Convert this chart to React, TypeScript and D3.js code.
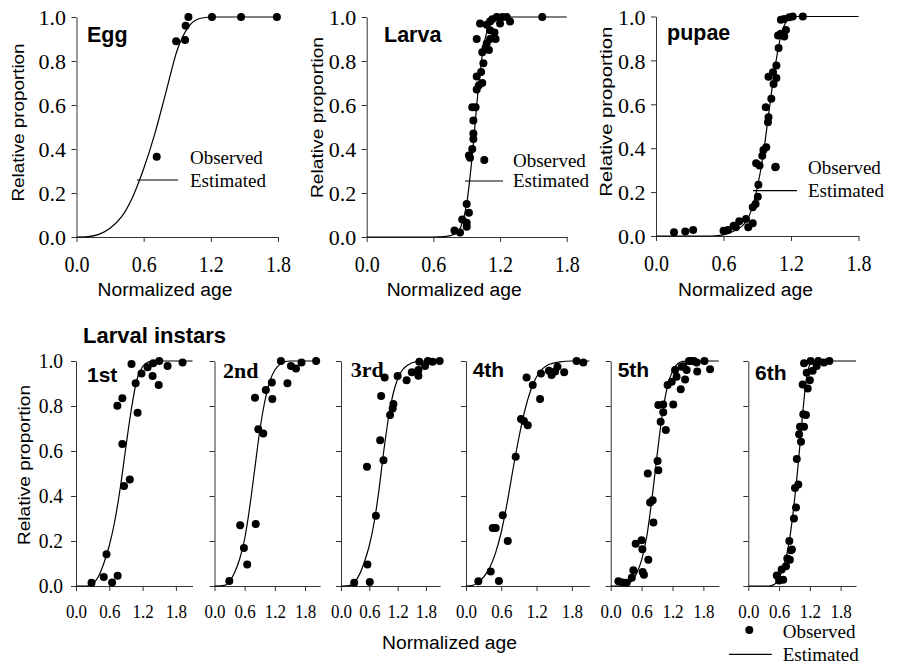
import React, { useEffect, useRef } from "react";
import * as d3 from "d3";

type Pt = [number, number];

// ── tick values ──────────────────────────────────────────────
const yTicks = [0, 0.2, 0.4, 0.6, 0.8, 1.0];
const xTicks = [0, 0.6, 1.2, 1.8];

// ── observed / estimated, [normalized age, relative proportion] ──
const eggObserved: Pt[] = [
  [0.89, 0.89], [0.97, 0.895], [0.975, 0.96], [1.0, 1.0], [1.21, 1.0], [1.47, 1.0], [1.79, 1.0],
];
const eggEstimated: Pt[] = [
  [0, 0], [0.1, 0.002], [0.2, 0.012], [0.3, 0.04], [0.4, 0.09], [0.5, 0.18], [0.6, 0.31],
  [0.7, 0.47], [0.8, 0.66], [0.9, 0.85], [1.0, 0.955], [1.1, 0.993], [1.2, 1], [1.8, 1],
];

const larvaObserved: Pt[] = [
  [0.79, 0.03], [0.84, 0.02], [0.86, 0.08], [0.9, 0.15], [0.9, 0.065], [0.92, 0.11], [0.9, 0.047],
  [0.92, 0.37], [0.93, 0.36], [0.95, 0.4], [0.96, 0.445], [0.96, 0.47], [0.95, 0.59], [0.98, 0.59],
  [0.96, 0.53], [0.99, 0.67], [1.01, 0.69], [0.99, 0.73], [1.03, 0.75], [1.05, 0.79], [1.04, 0.84],
  [1.07, 0.86], [1.08, 0.88], [1.1, 0.85], [0.99, 0.9], [1.11, 0.9], [1.11, 0.94], [1.15, 0.93],
  [1.02, 0.97], [1.08, 0.965], [1.13, 0.99], [1.17, 1], [1.22, 1], [1.26, 1], [1.2, 0.97],
  [1.29, 0.98], [1.11, 0.98], [1.58, 1], [1.16, 0.9], [1.04, 0.7],
];
const larvaEstimated: Pt[] = [
  [0, 0], [0.6, 0], [0.7, 0.002], [0.8, 0.015], [0.85, 0.05], [0.9, 0.15], [0.95, 0.37],
  [1.0, 0.65], [1.05, 0.86], [1.1, 0.96], [1.15, 0.993], [1.2, 1], [1.8, 1],
];

const pupaeObserved: Pt[] = [
  [0.16, 0.017], [0.26, 0.021], [0.33, 0.027], [0.6, 0.024], [0.64, 0.027], [0.69, 0.047],
  [0.71, 0.04], [0.74, 0.067], [0.8, 0.078], [0.82, 0.04], [0.86, 0.058], [0.86, 0.131],
  [0.885, 0.146], [0.905, 0.179], [0.91, 0.234], [0.89, 0.331], [0.92, 0.321], [0.945, 0.366],
  [0.955, 0.392], [0.98, 0.404], [1.06, 0.313], [0.975, 0.587], [1.0, 0.541], [0.995, 0.518],
  [1.025, 0.625], [1.0, 0.726], [1.04, 0.746], [1.07, 0.72], [1.045, 0.693], [1.07, 0.777],
  [1.09, 0.857], [1.085, 0.913], [1.11, 0.921], [1.14, 0.909], [1.155, 0.939], [1.11, 0.985],
  [1.14, 0.989], [1.185, 0.997], [1.215, 1], [1.305, 1],
];
const pupaeEstimated: Pt[] = [
  [0, 0], [0.5, 0], [0.6, 0.005], [0.7, 0.025], [0.8, 0.065], [0.85, 0.12], [0.9, 0.22],
  [0.95, 0.36], [1.0, 0.55], [1.05, 0.74], [1.1, 0.89], [1.15, 0.97], [1.2, 0.997], [1.25, 1], [1.8, 1],
];

const instar1Observed: Pt[] = [
  [0.28, 0.015], [0.5, 0.04], [0.55, 0.141], [0.65, 0.016], [0.75, 0.046], [0.745, 0.801],
  [0.835, 0.834], [0.835, 0.631], [0.865, 0.444], [0.97, 0.473], [1.0, 0.987], [1.075, 0.901],
  [1.11, 0.77], [1.18, 0.945], [1.29, 0.972], [1.38, 0.933], [1.39, 0.99], [1.5, 1.0],
  [1.49, 0.893], [1.65, 0.978], [1.92, 0.993],
];
const instar1Estimated: Pt[] = [
  [0, 0], [0.2, 0], [0.3, 0.01], [0.4, 0.04], [0.5, 0.1], [0.6, 0.18], [0.7, 0.29], [0.8, 0.44],
  [0.9, 0.62], [1.0, 0.79], [1.1, 0.92], [1.2, 0.975], [1.3, 0.995], [1.4, 1], [2.1, 1],
];

const instar2Observed: Pt[] = [
  [0.295, 0.022], [0.51, 0.27], [0.585, 0.169], [0.65, 0.096], [0.82, 0.276], [0.805, 0.837],
  [0.87, 0.697], [0.97, 0.678], [1.02, 0.871], [1.14, 0.904], [1.15, 0.831], [1.32, 1.0],
  [1.45, 0.901], [1.52, 0.978], [1.62, 0.967], [1.73, 0.993], [2.02, 1.0],
];
const instar2Estimated: Pt[] = [
  [0, 0], [0.2, 0.003], [0.3, 0.02], [0.4, 0.06], [0.5, 0.12], [0.6, 0.21], [0.7, 0.35], [0.8, 0.52],
  [0.9, 0.69], [1.0, 0.82], [1.1, 0.91], [1.2, 0.96], [1.3, 0.985], [1.4, 0.997], [1.5, 1], [2.1, 1],
];

const instar3Observed: Pt[] = [
  [0.28, 0.015], [0.56, 0.096], [0.61, 0.018], [0.55, 0.53], [0.74, 0.312], [0.83, 0.648],
  [0.9, 0.559], [0.85, 0.844], [0.925, 0.927], [1.04, 0.76], [1.095, 0.789], [1.11, 0.809],
  [1.2, 0.933], [1.39, 0.915], [1.5, 0.95], [1.64, 0.935], [1.64, 0.96], [1.66, 0.997],
  [1.78, 0.978], [1.84, 1.0], [1.94, 0.997], [2.09, 1.0],
];
const instar3Estimated: Pt[] = [
  [0, 0], [0.2, 0.003], [0.3, 0.02], [0.4, 0.055], [0.5, 0.11], [0.6, 0.18], [0.7, 0.28],
  [0.8, 0.42], [0.9, 0.59], [1.0, 0.74], [1.1, 0.85], [1.2, 0.92], [1.3, 0.96], [1.4, 0.98],
  [1.6, 0.997], [1.8, 1], [2.1, 1],
];

const instar4Observed: Pt[] = [
  [0.21, 0.021], [0.42, 0.065], [0.56, 0.022], [0.455, 0.258], [0.505, 0.258], [0.625, 0.315],
  [0.71, 0.2], [0.845, 0.574], [0.935, 0.742], [0.985, 0.733], [1.05, 0.715], [1.03, 0.927],
  [1.135, 0.893], [1.26, 0.831], [1.275, 0.945], [1.41, 0.957], [1.455, 0.938], [1.515, 0.953],
  [1.555, 0.975], [1.67, 0.95], [1.88, 1.0], [1.995, 0.993],
];
const instar4Estimated: Pt[] = [
  [0, 0], [0.1, 0.002], [0.2, 0.015], [0.3, 0.04], [0.4, 0.08], [0.5, 0.145], [0.6, 0.24],
  [0.7, 0.37], [0.8, 0.52], [0.9, 0.66], [1.0, 0.78], [1.1, 0.87], [1.2, 0.93], [1.3, 0.965],
  [1.4, 0.983], [1.6, 0.996], [1.8, 1], [2.1, 1],
];

const instar5Observed: Pt[] = [
  [0.15, 0.021], [0.235, 0.016], [0.31, 0.015], [0.41, 0.037], [0.44, 0.07], [0.485, 0.188],
  [0.6, 0.203], [0.615, 0.163], [0.62, 0.062], [0.645, 0.05], [0.73, 0.117], [0.72, 0.5],
  [0.765, 0.371], [0.815, 0.381], [0.83, 0.282], [0.91, 0.556], [0.925, 0.515], [0.925, 0.804],
  [1.02, 0.807], [0.97, 0.73], [1.02, 0.772], [1.07, 0.693], [1.105, 0.893], [1.215, 0.807],
  [1.185, 0.908], [1.25, 0.96], [1.28, 0.93], [1.36, 0.875], [1.38, 0.975], [1.445, 0.918],
  [1.475, 0.96], [1.52, 1.0], [1.41, 0.977], [1.575, 1.0], [1.615, 1.0], [1.67, 0.993],
  [1.68, 0.953], [1.82, 1.0], [1.93, 0.963],
];
const instar5Estimated: Pt[] = [
  [0, 0], [0.2, 0.001], [0.3, 0.006], [0.4, 0.02], [0.5, 0.055], [0.6, 0.115], [0.7, 0.22],
  [0.8, 0.385], [0.9, 0.58], [1.0, 0.76], [1.1, 0.885], [1.2, 0.955], [1.3, 0.988], [1.4, 0.998],
  [1.5, 1], [2.1, 1],
];

const instar6Observed: Pt[] = [
  [0.555, 0.047], [0.6, 0.025], [0.68, 0.028], [0.65, 0.073], [0.735, 0.088], [0.76, 0.122],
  [0.81, 0.117], [0.83, 0.159], [0.8, 0.2], [0.85, 0.162], [0.89, 0.3], [0.93, 0.349],
  [0.91, 0.436], [0.975, 0.451], [0.945, 0.564], [1.027, 0.641], [0.99, 0.674], [1.008, 0.708],
  [1.086, 0.708], [1.072, 0.763], [1.124, 0.76], [1.06, 0.896], [1.158, 0.878], [1.2, 0.915],
  [1.138, 0.948], [1.255, 0.957], [1.086, 0.99], [1.216, 1.0], [1.333, 0.978], [1.365, 1.0],
  [1.476, 0.993], [1.58, 1.0],
];
const instar6Estimated: Pt[] = [
  [0, 0], [0.4, 0], [0.5, 0.006], [0.6, 0.035], [0.7, 0.095], [0.8, 0.2], [0.9, 0.38], [1.0, 0.61],
  [1.05, 0.74], [1.1, 0.86], [1.15, 0.945], [1.2, 0.985], [1.25, 0.998], [1.3, 1], [2.1, 1],
];

const topTitles = ["Egg", "Larva", "pupae"];
const instarTitles = ["1st", "2nd", "3rd", "4th", "5th", "6th"];

// ── layout (pixels) ──────────────────────────────────────────
const SERIF = "'Liberation Serif', 'Times New Roman', serif";
const SANS = "'Liberation Sans', Arial, sans-serif";
const AXIS = "#333";

const topLayout = [
  { left: 76.5, right: 278, top: 17, bottom: 237, xMax: 1.8, title: [87, 42], ylab: [24, 122.5, 158], xlab: [97.5, 296, 135], legend: { dot: [156.7, 156.7], line: [137, 178, 180], text: [190, 164, 187] } },
  { left: 366.7, right: 566.7, top: 17, bottom: 237, xMax: 1.8, title: [384, 42], ylab: [322.6, 117.5, 161], xlab: [386.7, 296, 135], legend: { dot: [484.3, 160], line: [465, 503, 181], text: [513, 166.5, 187.3] } },
  { left: 656, right: 858.5, top: 16.5, bottom: 236, xMax: 1.8, title: [667, 40], ylab: [611.6, 111.7, 170], xlab: [678, 296, 135], legend: { dot: [775.7, 166.7], line: [753, 797, 190.7], text: [808, 174, 197.3] } },
];

const bottomLayout = [
  { left: 76, unit: 55.5, serifTitle: false, title: [87, 382] },
  { left: 214.5, unit: 50.3, serifTitle: true, title: [223, 378] },
  { left: 341, unit: 47.2, serifTitle: true, title: [350.7, 377] },
  { left: 466, unit: 58.8, serifTitle: false, title: [472.7, 377] },
  { left: 610.7, unit: 51.5, serifTitle: false, title: [617.7, 377] },
  { left: 748.3, unit: 51.3, serifTitle: false, title: [755, 380] },
];

// taller-than-wide Times digits in the source figure
function stretchY(sel: any, k: number) {
  sel
    .style("transform-box", "fill-box")
    .style("transform-origin", "center")
    .style("transform", `scaleY(${k})`);
}

export default function App() {
  const svgRef = useRef<SVGSVGElement>(null);

  useEffect(() => {
    const svg = d3.select(svgRef.current);
    svg.selectAll("*").remove();

    const topData = [
      [eggObserved, eggEstimated],
      [larvaObserved, larvaEstimated],
      [pupaeObserved, pupaeEstimated],
    ];
    const bottomData = [
      [instar1Observed, instar1Estimated],
      [instar2Observed, instar2Estimated],
      [instar3Observed, instar3Estimated],
      [instar4Observed, instar4Estimated],
      [instar5Observed, instar5Estimated],
      [instar6Observed, instar6Estimated],
    ];

    function drawPanel(obs: Pt[], est: Pt[], x: d3.ScaleLinear<number, number>, y: d3.ScaleLinear<number, number>, o: any) {
      const g = svg.append("g");

      // y axis
      const ya = g.append("g")
        .attr("transform", `translate(${x.range()[0]},0)`)
        .call(d3.axisLeft(y).tickValues(yTicks).tickSize(5).tickSizeOuter(0)
          .tickFormat(o.yLabels ? (d3.format(".1f") as any) : () => ""));
      ya.attr("font-family", SERIF);
      ya.select(".domain").attr("stroke", AXIS);
      ya.selectAll(".tick line").attr("stroke", AXIS);
      const yt = ya.selectAll("text")
        .attr("x", -o.yGap).attr("dy", o.yDy).attr("fill", "#000")
        .attr("font-family", SERIF)
        .style("font-family", SERIF).style("font-size", `${o.yFont}px`);
      stretchY(yt, o.yStretch);

      // x axis
      const xa = g.append("g")
        .attr("transform", `translate(0,${y(0)})`)
        .call(d3.axisBottom(x).tickValues(xTicks).tickSize(5).tickSizeOuter(0)
          .tickFormat(d3.format(".1f") as any));
      xa.attr("font-family", SERIF);
      xa.select(".domain").attr("stroke", AXIS);
      xa.selectAll(".tick line").attr("stroke", AXIS);
      const xt = xa.selectAll("text")
        .attr("y", o.xBase).attr("dy", 0).attr("fill", "#000")
        .attr("font-family", SERIF)
        .style("font-family", SERIF).style("font-size", `${o.xFont}px`);
      stretchY(xt, o.xStretch);

      const line = d3.line<Pt>()
        .x((d) => x(d[0]))
        .y((d) => y(d[1]))
        .curve(d3.curveMonotoneX);

      g.append("path")
        .datum(est)
        .attr("fill", "none")
        .attr("stroke", "#000")
        .attr("stroke-width", 1.2)
        .attr("d", line);

      g.append("g")
        .selectAll("circle")
        .data(obs)
        .join("circle")
        .attr("cx", (d) => x(d[0]))
        .attr("cy", (d) => y(d[1]))
        .attr("r", 4)
        .attr("fill", "#000");
    }

    function drawLegend(L: any) {
      const g = svg.append("g").style("font-family", SERIF).style("font-size", "19px");
      g.append("circle").attr("cx", L.dot[0]).attr("cy", L.dot[1]).attr("r", 4).attr("fill", "#000");
      g.append("line")
        .attr("x1", L.line[0]).attr("x2", L.line[1])
        .attr("y1", L.line[2]).attr("y2", L.line[2])
        .attr("stroke", "#000").attr("stroke-width", 1.2);
      g.append("text").attr("x", L.text[0]).attr("y", L.text[1]).text("Observed");
      g.append("text").attr("x", L.text[0]).attr("y", L.text[2]).text("Estimated");
    }

    function yLabel(cx: number, cy: number, len: number) {
      svg.append("text")
        .attr("transform", `translate(${cx},${cy}) rotate(-90)`)
        .attr("text-anchor", "middle")
        .style("font-family", SANS)
        .style("font-size", "16px")
        .attr("textLength", len)
        .attr("lengthAdjust", "spacingAndGlyphs")
        .text("Relative proportion");
    }

    function xLabel(x0: number, base: number, len: number) {
      svg.append("text")
        .attr("x", x0)
        .attr("y", base)
        .style("font-family", SANS)
        .style("font-size", "18px")
        .attr("textLength", len)
        .attr("lengthAdjust", "spacingAndGlyphs")
        .text("Normalized age");
    }

    // ── top row: Egg / Larva / pupae ──
    topLayout.forEach((L, i) => {
      const x = d3.scaleLinear().domain([0, L.xMax]).range([L.left, L.right]);
      const y = d3.scaleLinear().domain([0, 1]).range([L.bottom, L.top]);
      drawPanel(topData[i][0], topData[i][1], x, y, {
        yLabels: true, yFont: 22, yGap: 10.5, yDy: "0.35em", yStretch: 1,
        xFont: 20, xBase: 33.7, xStretch: 1.15,
      });
      svg.append("text")
        .attr("x", L.title[0]).attr("y", L.title[1])
        .style("font-family", SANS).style("font-weight", "bold").style("font-size", "21.5px")
        .text(topTitles[i]);
      yLabel(L.ylab[0], L.ylab[1], L.ylab[2]);
      xLabel(L.xlab[0], L.xlab[1], L.xlab[2]);
      drawLegend(L.legend);
    });

    // ── bottom row: larval instars ──
    const bTop = 361;
    const bBottom = 586;
    const bMax = 2.1;
    bottomLayout.forEach((L, i) => {
      const x = d3.scaleLinear().domain([0, bMax]).range([L.left, L.left + bMax * L.unit]);
      const y = d3.scaleLinear().domain([0, 1]).range([bBottom, bTop]);
      drawPanel(bottomData[i][0], bottomData[i][1], x, y, {
        yLabels: i === 0, yFont: 19.5, yGap: 13, yDy: "0.3em", yStretch: 1.1,
        xFont: 17, xBase: 30.7, xStretch: 1.15,
      });
      svg.append("text")
        .attr("x", L.title[0]).attr("y", L.title[1])
        .style("font-family", L.serifTitle ? SERIF : SANS)
        .style("font-weight", "bold")
        .style("font-size", L.serifTitle ? "22px" : "21px")
        .text(instarTitles[i]);
    });

    svg.append("text")
      .attr("x", 83).attr("y", 343)
      .style("font-family", SANS).style("font-weight", "bold").style("font-size", "22px")
      .text("Larval instars");

    yLabel(30, 465, 160);
    xLabel(382, 649, 135);
    drawLegend({ dot: [749.3, 630], line: [729, 771.7, 654.3], text: [782.7, 638.3, 660.7] });
  }, []);

  return (
    <div style={{ position: "absolute", left: 0, top: 0, background: "#fff" }}>
      <svg ref={svgRef} width={898} height={666} style={{ display: "block" }} />
    </div>
  );
}
